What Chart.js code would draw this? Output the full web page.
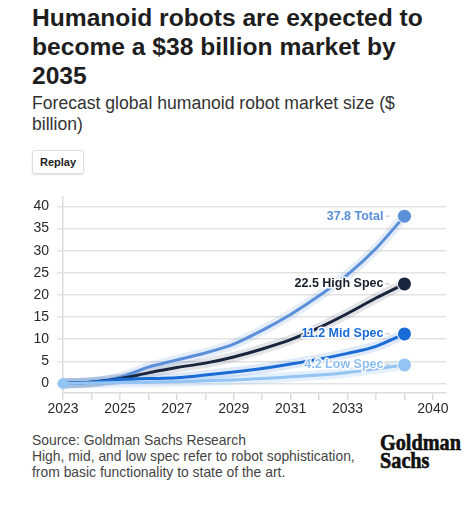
<!DOCTYPE html>
<html>
<head>
<meta charset="utf-8">
<title>Humanoid robot market</title>
<script src="https://cdn.jsdelivr.net/npm/chart.js@4.4.1/dist/chart.umd.min.js"></script>
<style>
  body { margin: 0; background: #fff; width: 475px; height: 509px; position: relative; overflow: hidden;
         font-family: "Liberation Sans", Arial, sans-serif; }
  .title { position: absolute; left: 32px; top: 3px; font-size: 24.6px; line-height: 29px; font-weight: bold; color: #1e1e1e; }
  .subtitle { position: absolute; left: 32px; top: 93px; font-size: 17.6px; line-height: 21px; color: #333; }
  .replay { position: absolute; left: 32px; top: 150px; width: 50px; height: 22px; border: 1px solid #ddd; border-radius: 3px;
            box-shadow: 0 1px 2px rgba(0,0,0,0.12); font-size: 11px; font-weight: bold; color: #222; text-align: center; line-height: 22px; }
  #chartBox { position: absolute; left: 0; top: 180px; width: 475px; height: 240px; }
  .footer { position: absolute; left: 32px; top: 432px; font-size: 13.9px; line-height: 16px; color: #444; }
  .logo { position: absolute; left: 380px; top: 434px; font-family: "Liberation Serif", serif; font-weight: bold; font-size: 23px;
          line-height: 18px; color: #111; transform: scaleX(0.88); transform-origin: left top; -webkit-text-stroke: 0.6px #111; }
</style>
</head>
<body>

<div class="title">Humanoid robots are expected to<br>become a $38 billion market by<br>2035</div>
<div class="subtitle">Forecast global humanoid robot market size ($<br>billion)</div>
<div class="replay">Replay</div>

<div id="chartBox"><canvas id="myChart"></canvas></div>

<div class="footer">Source: Goldman Sachs Research<br>High, mid, and low spec refer to robot sophistication,<br>from basic functionality to state of the art.</div>
<div class="logo">Goldman<br>Sachs</div>

<script>
// years with data, plus the axis labels (last slot is labelled 2040)
var years = ['2023','2024','2025','2026','2027','2028','2029','2030','2031','2032','2033','2034','2035'];
var xTickLabels = ['2023','','2025','','2027','','2029','','2031','','2033','','','2040'];
var yTicks = [0, 5, 10, 15, 20, 25, 30, 35, 40];

var seriesNames = ['Total', 'High Spec', 'Mid Spec', 'Low Spec'];
var total    = [0, 0.3, 1.4, 3.7, 5.3, 6.9, 8.9, 12.0, 15.6, 19.8, 24.6, 30.5, 37.8];
var highSpec = [0, 0.3, 1.1, 2.4, 3.6, 4.6, 6.0, 7.8, 9.9, 12.6, 15.8, 19.3, 22.5];
var midSpec  = [0, 0.3, 0.9, 1.1, 1.3, 1.9, 2.6, 3.4, 4.4, 5.5, 6.8, 8.4, 11.2];
var lowSpec  = [0, 0.1, 0.2, 0.3, 0.4, 0.6, 0.8, 1.1, 1.5, 1.9, 2.5, 3.3, 4.2];

var seriesData = [total, highSpec, midSpec, lowSpec];
var lineColors = ['#5b8fd9', '#18253d', '#1b6bd6', '#94c4f3'];
var haloColors = ['rgba(91,143,217,0.16)', 'rgba(24,37,61,0.12)', 'rgba(27,107,214,0.14)', 'rgba(148,196,243,0.25)'];
var labelColors = ['#5b8fd9', '#18202e', '#1b6bd6', '#8dbef0'];

var fontFam = '"Liberation Sans", Arial, sans-serif';
Chart.defaults.font.family = fontFam;

function toPoints(arr) {
    return arr.map(function (v, i) { return { x: i, y: v }; });
}

var datasets = [];
// main lines, Low Spec on top; only Low Spec shows the start dot
for (var i = 0; i < seriesData.length; i++) {
    (function (i) {
        var last = seriesData[i].length - 1;
        var startR = (i === seriesData.length - 1) ? 5 : 0;
        datasets.push({
            label: seriesNames[i],
            data: toPoints(seriesData[i]),
            borderColor: lineColors[i],
            backgroundColor: lineColors[i],
            borderWidth: 3,
            cubicInterpolationMode: 'monotone',
            clip: false,
            pointRadius: function (c) { return c.dataIndex === last ? 6.5 : (c.dataIndex === 0 ? startR : 0); },
            pointBorderWidth: function (c) { return c.dataIndex === 0 ? 2 : 2; },
            pointBorderColor: function (c) { return c.dataIndex === 0 ? 'rgba(148,196,243,0.45)' : 'rgba(255,255,255,0.85)'; },
            order: 3 - i
        });
    })(i);
}
// soft halo under each line
for (var j = 0; j < seriesData.length; j++) {
    datasets.push({
        label: seriesNames[j] + ' halo',
        data: toPoints(seriesData[j]),
        borderColor: haloColors[j],
        borderWidth: 10,
        cubicInterpolationMode: 'monotone',
        pointRadius: 0,
        order: 10 + j
    });
}

var endLabels = {
    id: 'endLabels',
    afterDatasetsDraw: function (chart) {
        var ctx = chart.ctx;
        ctx.save();
        ctx.font = 'bold 12.5px ' + fontFam;
        ctx.textAlign = 'right';
        ctx.textBaseline = 'middle';
        ctx.lineJoin = 'round';
        for (var k = 0; k < seriesData.length; k++) {
            var meta = chart.getDatasetMeta(k);
            var last = seriesData[k].length - 1;
            var pt = meta.data[last];
            var txt = seriesData[k][last].toFixed(1) + ' ' + seriesNames[k];
            ctx.strokeStyle = '#bbb';
            ctx.lineWidth = 1;
            ctx.beginPath();
            ctx.moveTo(pt.x - 19, pt.y);
            ctx.lineTo(pt.x - 15, pt.y);
            ctx.stroke();
            ctx.strokeStyle = 'rgba(255,255,255,0.95)';
            ctx.lineWidth = 3;
            ctx.strokeText(txt, pt.x - 21, pt.y);
            ctx.fillStyle = labelColors[k];
            ctx.fillText(txt, pt.x - 21, pt.y);
            // redraw end dot above label stroke
            ctx.beginPath();
            ctx.arc(pt.x, pt.y, 6.5, 0, Math.PI * 2);
            ctx.fillStyle = lineColors[k];
            ctx.fill();
        }
        ctx.restore();
    }
};

var chart = new Chart(document.getElementById('myChart').getContext('2d'), {
    type: 'line',
    data: { datasets: datasets },
    options: {
        responsive: true,
        maintainAspectRatio: false,
        animation: false,
        layout: { padding: { top: 12, right: 29, left: 0, bottom: 0 } },
        plugins: { legend: { display: false }, tooltip: { enabled: false } },
        scales: {
            x: {
                type: 'linear',
                min: 0,
                max: 13.46,
                afterBuildTicks: function (scale) {
                    scale.ticks = xTickLabels.map(function (t, i) { return { value: i }; });
                },
                afterFit: function (scale) { scale.height = 27; },
                ticks: {
                    autoSkip: false,
                    maxRotation: 0,
                    padding: 1,
                    color: '#2a2a2a',
                    font: { size: 14 },
                    callback: function (v) { return xTickLabels[v]; }
                },
                grid: { drawOnChartArea: false, drawTicks: true, tickLength: 7, color: '#dcdcdc', lineWidth: 1.5 },
                border: { display: true, color: '#dcdcdc', width: 1.5 }
            },
            y: {
                min: -2.15,
                max: 42.26,
                afterBuildTicks: function (scale) {
                    scale.ticks = yTicks.map(function (v) { return { value: v }; });
                },
                afterFit: function (scale) { scale.width = 63; },
                ticks: { padding: 8, color: '#2a2a2a', font: { size: 14 } },
                grid: { color: '#e3e3e3', lineWidth: 1.5, tickLength: 6 },
                border: { display: true, color: '#dcdcdc', width: 1.5 }
            }
        }
    },
    plugins: [endLabels]
});
</script>
</body>
</html>
